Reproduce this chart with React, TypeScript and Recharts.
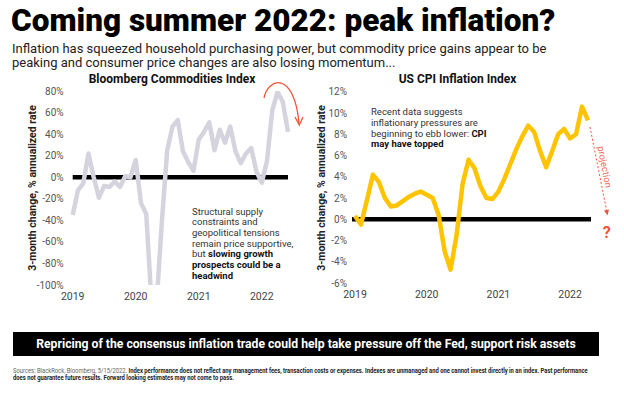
import React from 'react';
import { LineChart, Line, XAxis, YAxis, ReferenceLine } from 'recharts';

// monthly labels, Jan 2019 onwards
const monthLabels = (count: number) =>
  Array.from({ length: count }, (_, i) => `${2019 + Math.floor(i / 12)}-${String((i % 12) + 1).padStart(2, '0')}`);

// Bloomberg Commodities Index, 3-month change, % annualized
const commodityValues = [
  -35, -12, -6, 22, 0, -19, -8, -9, -4, -9, 1, 0,
  16, -24, -34, -115, -115, -40, 25, 47, 53, 24, 14, 6,
  35, 42, 51, 25, 44, 32, 47, 24, 13, 22, 27, 5,
  -5, 15, 62, 79, 70, 42,
];
const commodityMonths = monthLabels(commodityValues.length);
const commodityTicks = [-100, -80, -60, -40, -20, 0, 20, 40, 60, 80];

// US CPI, 3-month change, % annualized
const cpiValues = [
  0.3, -0.5, 1.8, 4.2, 3.5, 2.0, 1.2, 1.3, 1.7, 2.1, 2.4, 2.6,
  2.3, 2.0, 0.4, -3.0, -4.75, -1.5, 3.3, 5.6, 4.8, 3.1, 2.0, 1.9,
  2.6, 3.8, 5.2, 6.6, 7.8, 8.8, 8.2, 6.4, 4.9, 6.4, 8.0, 8.5,
  7.6, 8.0, 10.6, 9.3,
];
const cpiMonths = monthLabels(cpiValues.length);
const cpiTicks = [-6, -4, -2, 0, 2, 4, 6, 8, 10, 12];

const commodityData = commodityMonths.map((m, i) => ({ month: m, value: commodityValues[i] }));
const cpiData = cpiMonths.map((m, i) => ({ month: m, value: cpiValues[i] }));

const RED = '#f0553b';
const FONT = 'Roboto, "Open Sans", sans-serif';

const yearOnly = (s: string) => s.slice(0, 4);
const pct = (v: number) => `${v}%`;

const yTitle: React.CSSProperties = {
  position: 'absolute',
  transform: 'translate(-50%, -50%) rotate(-90deg)',
  whiteSpace: 'nowrap',
  fontSize: 10.5,
  fontWeight: 700,
  color: '#222',
};

const chartTitle: React.CSSProperties = {
  position: 'absolute',
  transform: 'translate(-50%, -50%)',
  whiteSpace: 'nowrap',
  fontSize: 12,
  fontWeight: 700,
  color: '#111',
};

export default function App() {
  return (
    <div style={{ position: 'absolute', left: 0, top: 0, width: 624, height: 393, background: '#fff', overflow: 'hidden', fontFamily: FONT }}>
      <div style={{ position: 'absolute', left: 11, top: 3, fontSize: 31.5, fontWeight: 900, lineHeight: '35px', color: '#000', whiteSpace: 'nowrap' }}>
        Coming summer 2022: peak inflation?
      </div>
      <div style={{ position: 'absolute', left: 12, top: 42, fontSize: 13, lineHeight: '14px', color: '#222', whiteSpace: 'nowrap' }}>
        Inflation has squeezed household purchasing power, but commodity price gains appear to be<br />
        peaking and consumer price changes are also losing momentum...
      </div>

      <div style={{ ...chartTitle, left: 172, top: 79 }}>Bloomberg Commodities Index</div>
      <div style={{ ...chartTitle, left: 457.5, top: 79 }}>US CPI Inflation Index</div>

      {/* left chart */}
      <div style={{ position: 'absolute', left: 0, top: 0 }}>
        <LineChart width={300} height={310} data={commodityData} margin={{ top: 91, right: 12, left: 0, bottom: 0 }}>
          <XAxis dataKey="month" interval={11} tickFormatter={yearOnly} axisLine={false} tickLine={false} tickSize={0} tickMargin={8} height={25} tick={{ fontSize: 10.5, fill: '#444' }} />
          <YAxis domain={[-100, 80]} ticks={commodityTicks} allowDataOverflow tickFormatter={pct} axisLine={false} tickLine={false} tickSize={0} tickMargin={9} width={72.7} tick={{ fontSize: 10, fill: '#555' }} />
          <ReferenceLine y={0} stroke="#000" strokeWidth={4.5} />
          <Line type="linear" dataKey="value" stroke="#d5d4de" strokeWidth={4.5} dot={false} strokeLinejoin="round" isAnimationActive={false} />
        </LineChart>
      </div>

      {/* right chart */}
      <div style={{ position: 'absolute', left: 300, top: 0 }}>
        <LineChart width={324} height={310} data={cpiData} margin={{ top: 91.7, right: 33, left: 0, bottom: 0 }}>
          <XAxis dataKey="month" interval={11} tickFormatter={yearOnly} padding={{ left: 3, right: 3 }} axisLine={false} tickLine={false} tickSize={0} tickMargin={8} height={27} tick={{ fontSize: 10.5, fill: '#444' }} />
          <YAxis domain={[-6, 12]} ticks={cpiTicks} tickFormatter={pct} axisLine={false} tickLine={false} tickSize={0} tickMargin={5} width={52} tick={{ fontSize: 10, fill: '#555' }} />
          <ReferenceLine y={0} stroke="#000" strokeWidth={4.5} />
          <Line type="linear" dataKey="value" stroke="#ffc300" strokeWidth={4.5} dot={false} strokeLinejoin="round" isAnimationActive={false} />
        </LineChart>
      </div>

      <div style={{ ...yTitle, left: 31.7, top: 188 }}>3-month change, % annualized rate</div>
      <div style={{ ...yTitle, left: 321, top: 188 }}>3-month change, % annualized rate</div>

      {/* annotations */}
      <div style={{ position: 'absolute', left: 192, top: 206.5, fontSize: 9.5, lineHeight: '10.7px', color: '#333', whiteSpace: 'nowrap' }}>
        Structural supply<br />
        constraints and<br />
        geopolitical tensions<br />
        remain price supportive,<br />
        but <b style={{ color: '#111' }}>slowing growth</b><br />
        <b style={{ color: '#111' }}>prospects could be a</b><br />
        <b style={{ color: '#111' }}>headwind</b>
      </div>
      <div style={{ position: 'absolute', left: 371, top: 107.3, fontSize: 9.5, lineHeight: '10.7px', color: '#333', whiteSpace: 'nowrap' }}>
        Recent data suggests<br />
        inflationary pressures are<br />
        beginning to ebb lower: <b style={{ color: '#111' }}>CPI</b><br />
        <b style={{ color: '#111' }}>may have topped</b>
      </div>

      <svg width={624} height={393} style={{ position: 'absolute', left: 0, top: 0, pointerEvents: 'none' }}>
        <path d="M264 98 C 268 78, 294 70, 299 123" stroke={RED} strokeWidth={1.3} fill="none" />
        <polyline points="295,117 299.3,125 303,117" stroke={RED} strokeWidth={1.3} fill="none" />
        <line x1={590} y1={127} x2={606.6} y2={210.5} stroke={RED} strokeWidth={1} strokeDasharray="2 2" />
        <polygon points="609,209.6 604,210.6 607.5,215.5" fill={RED} />
        <text x={604} y={167} fontSize={9.5} fill="#f36b5a" textAnchor="middle" dominantBaseline="middle" transform="rotate(79 604 167)" fontFamily={FONT}>
          projection
        </text>
        <text x={606.7} y={234} fontSize={16} fontWeight={700} fill={RED} textAnchor="middle" dominantBaseline="middle" fontFamily={FONT}>
          ?
        </text>
      </svg>

      <div style={{ position: 'absolute', left: 13, top: 331.5, width: 586, height: 24.5, background: '#000', color: '#fff', fontSize: 12.2, fontWeight: 700, lineHeight: '24.5px', textAlign: 'center', whiteSpace: 'nowrap' }}>
        Repricing of the consensus inflation trade could help take pressure off the Fed, support risk assets
      </div>

      <div style={{ position: 'absolute', left: 13, top: 368, fontSize: 6.6, lineHeight: '7.3px', color: '#222', whiteSpace: 'nowrap', transform: 'scaleX(0.885)', transformOrigin: '0 0' }}>
        <span style={{ color: '#666' }}>Sources: BlackRock, Bloomberg, 5/15/2022. </span>
        <b>Index performance does not reflect any management fees, transaction costs or expenses. Indexes are unmanaged and one cannot invest directly in an index. Past performance</b><br />
        <b>does not guarantee future results. Forward looking estimates may not come to pass.</b>
      </div>
    </div>
  );
}
